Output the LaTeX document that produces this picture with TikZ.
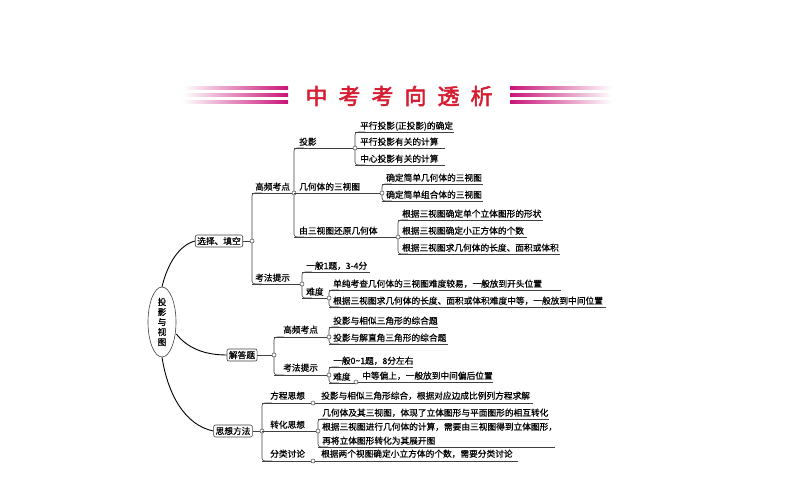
\documentclass[tikz,border=0pt]{standalone}
\usepackage{fontspec}
\usetikzlibrary{shapes.geometric}
\newfontfamily\cjk[AutoFakeBold=0.6]{Noto Sans CJK SC}
\newfontfamily\cjkt[AutoFakeBold=2.5]{Noto Sans CJK SC}
\definecolor{titlered}{RGB}{214,30,50}
\definecolor{barpink}{RGB}{200,20,120}
\tikzset{
 lbl/.style={inner sep=0pt, anchor=base west, font=\cjk\bfseries\fontsize{8.7}{9}\selectfont},
 ln/.style={line width=0.6pt, black!75},
 dot/.style={circle, draw=black!75, fill=white, line width=0.5pt, inner sep=0pt, minimum size=4pt},
 box/.style={draw=black!75, rounded corners=2pt, line width=0.6pt, inner sep=2pt, font=\cjk\bfseries\fontsize{8.7}{9}\selectfont},
 br/.style={ln, rounded corners=3pt},
 curve/.style={line width=0.9pt}
}
\begin{document}
\begin{tikzpicture}[x=1pt,y=-1pt]
\useasboundingbox (0,0) rectangle (794,495);
% title
\foreach \yy in {88,95,102}{
 \shade[left color=white, right color=barpink] (183,\yy-1.6) rectangle (288,\yy+1.6);
 \shade[left color=barpink, right color=white] (510,\yy-1.6) rectangle (612,\yy+1.6);
}
\node[font=\cjkt\bfseries\fontsize{22}{24}\selectfont, text=titlered, inner sep=0pt] (title) at (399,96) {中\hspace{11pt}考\hspace{11pt}考\hspace{11pt}向\hspace{11pt}透\hspace{11pt}析};

% root
\node[draw=black!75, ellipse, line width=0.6pt, minimum width=28pt, minimum height=70pt, inner sep=0pt, font=\cjk\bfseries\fontsize{8.7}{10}\selectfont, align=center] (root) at (162,322) {投\\影\\与\\视\\图};
% level 1 boxes
\node[box] (xz) at (219,241) {选择、填空};
\node[box] (jd) at (242,355) {解答题};
\node[box] (sx) at (233,431) {思想方法};
\draw[curve] (root.north) .. controls (168,262) and (180,245) .. (xz.west);
\draw[curve] (root.east) ++(0,12) .. controls (185,345) and (200,355) .. (jd.west);
\draw[curve] (root.south) .. controls (168,395) and (185,425) .. (sx.west);

% ===== 选择填空
\draw[ln] (xz.east) -- (252,241);
\draw[br] (262,193) -- (252,193) -- (252,284) -- (262,284);
\node[dot] (d1) at (252,241) {};
\node[lbl] (gp) at (255,190) {高频考点};
\draw[ln] (252,193) -- (294,193);
\node[lbl] (kf) at (255,281) {考法提示};
\draw[ln] (252,284) -- (302,284);
% 高频考点 children
\draw[br] (304,148) -- (294,148) -- (294,237) -- (304,237);
\node[dot] (d2) at (294,193) {};
\node[lbl] (ty) at (299,145) {投影};
\draw[ln] (294,148) -- (355,148);
\node[lbl] (jh) at (299,190) {几何体的三视图};
\draw[ln] (294,193) -- (382,193);
\node[lbl] (hy) at (299,234) {由三视图还原几何体};
\draw[ln] (294,237) -- (398,237);
% 投影 children
\draw[br] (365,132) -- (355,132) -- (355,165) -- (365,165);
\node[lbl] (a1) at (360,129) {平行投影(正投影)的确定};
\draw[ln] (355,132) -- (454,132);
\node[lbl] (a2) at (360,145) {平行投影有关的计算};
\draw[ln] (355,148) -- (445,148);
\node[lbl] (a3) at (360,162) {中心投影有关的计算};
\draw[ln] (355,165) -- (445,165);
\node[dot] (d3) at (355,148) {};
% 几何体的三视图 children
\draw[br] (392,184) -- (382,184) -- (382,201) -- (392,201);
\node[lbl] (b1) at (386,181) {确定简单几何体的三视图};
\draw[ln] (382,184) -- (483,184);
\node[lbl] (b2) at (386,198) {确定简单组合体的三视图};
\draw[ln] (382,201) -- (483,201);
\node[dot] (d4) at (382,193) {};
% 由三视图 children
\draw[br] (408,220) -- (398,220) -- (398,254) -- (408,254);
\node[lbl] (c1) at (402,217) {根据三视图确定单个立体图形的形状};
\draw[ln] (398,220) -- (543,220);
\node[lbl] (c2) at (402,234) {根据三视图确定小正方体的个数};
\draw[ln] (398,237) -- (527,237);
\node[lbl] (c3) at (402,251) {根据三视图求几何体的长度、面积或体积};
\draw[ln] (398,254) -- (560,254);
\node[dot] (d5) at (398,237) {};
% 考法提示 children
\draw[br] (312,272) -- (302,272) -- (302,298) -- (312,298);
\node[dot] (d6) at (302,284) {};
\node[lbl] (e1) at (306,269) {一般1题，3-4分};
\draw[ln] (302,272) -- (370,272);
\node[lbl] (e2) at (306,295) {难度};
\draw[ln] (302,298) -- (329,298);
\draw[br] (339,290) -- (329,290) -- (329,307) -- (339,307);
\node[lbl] (f1) at (333,287) {单纯考查几何体的三视图难度较易，一般放到开头位置};
\draw[ln] (329,290) -- (561,290);
\node[lbl] (f2) at (333,304) {根据三视图求几何体的长度、面积或体积难度中等，一般放到中间位置};
\draw[ln] (329,307) -- (606,307);
\node[dot] (d7) at (329,298) {};

% ===== 解答题
\draw[ln] (jd.east) -- (274,355);
\draw[br] (284,337) -- (274,337) -- (274,375) -- (284,375);
\node[dot] (d8) at (274,355) {};
\node[lbl] (g1) at (283,333) {高频考点};
\draw[ln] (274,337) -- (329,337);
\node[lbl] (g2) at (283,371) {考法提示};
\draw[ln] (274,375) -- (329,375);
\draw[br] (339,327) -- (329,327) -- (329,344) -- (339,344);
\node[lbl] (h1) at (333,324) {投影与相似三角形的综合题};
\draw[ln] (329,327) -- (438,327);
\node[lbl] (h2) at (333,341) {投影与解直角三角形的综合题};
\draw[ln] (329,344) -- (448,344);
\node[dot] (d9) at (329,337) {};
\draw[br] (339,367) -- (329,367) -- (329,383) -- (339,383);
\node[lbl] (i1) at (333,364) {一般0\textasciitilde 1题，8分左右};
\draw[ln] (329,367) -- (413,367);
\node[lbl] (i2) at (333,380) {难度};
\draw[ln] (329,383) -- (356,383);
\node[dot] (d10) at (329,375) {};
\node[lbl] (i3) at (362,379) {中等偏上，一般放到中间偏后位置};
\draw[ln] (356,382) -- (493,382);
\node[dot] (d11) at (356,382) {};

% ===== 思想方法
\draw[ln] (sx.east) -- (262,431);
\draw[br] (272,403) -- (262,403) -- (262,461) -- (272,461);
\node[dot] (d12) at (262,431) {};
\node[lbl] (j1) at (270,399) {方程思想};
\draw[ln] (262,403) -- (533,403);
\node[dot] (d13) at (313,403) {};
\node[lbl] (k1) at (321,399) {投影与相似三角形综合，根据对应边成比例列方程求解};
\node[lbl] (j2) at (270,428) {转化思想};
\draw[ln] (262,431) -- (318,431);
\draw[br] (328,419) -- (318,419) -- (318,447) -- (328,447);
\node[lbl] (k2) at (322,416) {几何体及其三视图，体现了立体图形与平面图形的相互转化};
\draw[ln] (318,419) -- (549,419);
\node[lbl] (k3) at (322,430) {根据三视图进行几何体的计算，需要由三视图得到立体图形，};
\node[lbl] (k4) at (322,444) {再将立体图形转化为其展开图};
\draw[ln] (318,447) -- (555,447);
\node[dot] (d14) at (318,431) {};
\node[lbl] (j3) at (270,457) {分类讨论};
\draw[ln] (262,461) -- (518,461);
\node[dot] (d15) at (313,461) {};
\node[lbl] (k5) at (321,457) {根据两个视图确定小立方体的个数，需要分类讨论};
\end{tikzpicture}
\end{document}
